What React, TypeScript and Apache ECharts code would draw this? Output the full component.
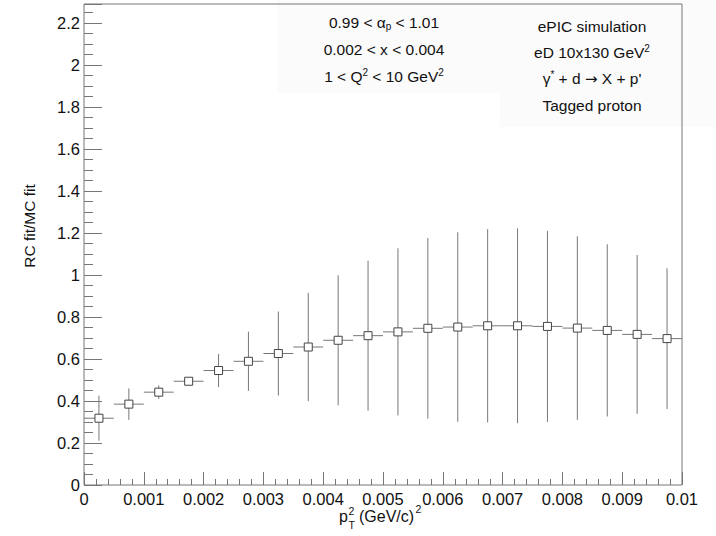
import React, { useEffect, useRef } from "react";
import * as echarts from "echarts";

// ---- data ----
const binCenters = [
  0.00025, 0.00075, 0.00125, 0.00175, 0.00225, 0.00275, 0.00325, 0.00375, 0.00425, 0.00475,
  0.00525, 0.00575, 0.00625, 0.00675, 0.00725, 0.00775, 0.00825, 0.00875, 0.00925, 0.00975,
];
const binHalfWidth = 0.00025;
const ratio = [
  0.318, 0.385, 0.442, 0.494, 0.545, 0.589, 0.626, 0.657, 0.689, 0.711,
  0.729, 0.746, 0.752, 0.758, 0.758, 0.755, 0.747, 0.736, 0.717, 0.697,
];
const ratioErr = [
  0.107, 0.075, 0.032, 0.012, 0.079, 0.141, 0.2, 0.258, 0.31, 0.357,
  0.398, 0.43, 0.451, 0.46, 0.464, 0.455, 0.437, 0.41, 0.378, 0.335,
];
const xMin = 0;
const xMax = 0.01;
const xStep = 0.001;
const yMin = 0;
const yMax = 2.29;
const yStep = 0.2;
const yMinorStep = 0.05;
const cutLines = ["0.99 < α{sub|p} < 1.01", "0.002 < x < 0.004", "1 < Q{sup|2} < 10 GeV{sup|2}"];
const infoLines = ["ePIC simulation", "eD 10x130 GeV{sup|2}", "γ{sup|*} + d {arr|→} X + p'", "Tagged proton"];
const yTitle = "RC fit/MC fit";

const FONT = "'Liberation Sans', Arial, Helvetica, sans-serif";
const TXT = "#111";
const LINE = "#777";

export default function App() {
  const ref = useRef<HTMLDivElement>(null);

  useEffect(() => {
    if (!ref.current) return;
    const chart = echarts.init(ref.current, undefined, { renderer: "svg" });

    const errData = binCenters.map((x, i) => [x, ratio[i], ratioErr[i], binHalfWidth]);
    const ptData = binCenters.map((x, i) => [x, ratio[i]]);

    const rich = {
      sup: { fontSize: 10, lineHeight: 10, verticalAlign: "top", fontFamily: FONT, fill: TXT, color: TXT },
      sub: { fontSize: 10, lineHeight: 10, verticalAlign: "bottom", fontFamily: FONT, fill: TXT, color: TXT },
      arr: { fontSize: 15, lineHeight: 18, fontFamily: "'DejaVu Sans', sans-serif", fill: TXT, color: TXT },
    };
    const mkText = (text: string, x: number, y: number) => ({
      type: "text",
      x,
      y,
      z: 5,
      style: {
        text,
        fill: TXT,
        fontSize: 15.5,
        fontFamily: FONT,
        lineHeight: 18,
        align: "center",
        verticalAlign: "middle",
        rich,
      },
    });
    const cutYs = [22, 49, 76];
    const infoYs = [26, 52.5, 78.5, 105.5];

    const plain = (text: string, x: number, y: number, fs: number, align = "left") => ({
      type: "text",
      x,
      y,
      z: 5,
      style: { text, fill: TXT, fontSize: fs, fontFamily: FONT, align, verticalAlign: "middle" },
    });

    const option: any = {
      animation: false,
      backgroundColor: "#fff",
      grid: {
        left: 84,
        right: 34,
        top: 4,
        bottom: 51,
        show: true,
        borderColor: LINE,
        borderWidth: 1,
        backgroundColor: "transparent",
        z: 3,
      },
      xAxis: {
        type: "value",
        min: xMin,
        max: xMax,
        interval: xStep,
        axisLine: { show: false },
        splitLine: { show: false },
        axisTick: { show: true, inside: true, length: 13, lineStyle: { color: LINE } },
        minorTick: { show: true, splitNumber: 5, length: 6, lineStyle: { color: LINE } },
        axisLabel: {
          margin: 5,
          color: TXT,
          fontSize: 16.5,
          fontFamily: FONT,
          showMinLabel: true,
          showMaxLabel: true,
          formatter: (v: number) => String(parseFloat(v.toFixed(4))),
        },
      },
      yAxis: [
        {
          type: "value",
          min: yMin,
          max: yMax,
          interval: yStep,
          axisLine: { show: false },
          splitLine: { show: false },
          axisTick: { show: true, inside: true, length: 18, lineStyle: { color: LINE } },
          axisLabel: {
            margin: 4,
            color: TXT,
            fontSize: 16.5,
            fontFamily: FONT,
            formatter: (v: number) =>
              Math.abs(v / yStep - Math.round(v / yStep)) < 1e-6 ? String(parseFloat(v.toFixed(2))) : "",
          },
        },
        {
          type: "value",
          position: "left",
          offset: 0,
          min: yMin,
          max: yMax,
          interval: yMinorStep,
          axisLine: { show: false },
          splitLine: { show: false },
          axisLabel: { show: false },
          axisTick: { show: true, inside: true, length: 9, lineStyle: { color: LINE } },
        },
      ],
      series: [
        {
          type: "custom",
          data: errData,
          z: 2,
          renderItem: (params: any, api: any) => {
            const x = api.value(0);
            const y = api.value(1);
            const e = api.value(2);
            const hw = api.value(3);
            const top = api.coord([x, y + e]);
            const bot = api.coord([x, y - e]);
            const l = api.coord([x - hw, y]);
            const r = api.coord([x + hw, y]);
            return {
              type: "group",
              children: [
                {
                  type: "line",
                  shape: { x1: top[0], y1: top[1], x2: bot[0], y2: bot[1] },
                  style: { stroke: LINE, lineWidth: 1 },
                },
                {
                  type: "line",
                  shape: { x1: l[0], y1: l[1], x2: r[0], y2: r[1] },
                  style: { stroke: LINE, lineWidth: 1 },
                },
              ],
            };
          },
        },
        {
          type: "scatter",
          data: ptData,
          symbol: "rect",
          symbolSize: 8,
          z: 4,
          itemStyle: { color: "#fff", borderColor: "#444", borderWidth: 1, opacity: 1 },
        },
      ],
      graphic: [
        { type: "rect", z: -1, shape: { x: 277, y: 0, width: 223, height: 93 }, style: { fill: "#fbfbfb" } },
        { type: "rect", z: -1, shape: { x: 500, y: 0, width: 216, height: 127 }, style: { fill: "#fbfbfb" } },
        ...cutLines.map((t, i) => mkText(t, 384, cutYs[i])),
        ...infoLines.map((t, i) => mkText(t, 592, infoYs[i])),
        {
          type: "text",
          x: 29,
          y: 226,
          rotation: Math.PI / 2,
          z: 5,
          style: { text: yTitle, fill: TXT, fontSize: 15.5, fontFamily: FONT, align: "center", verticalAlign: "middle" },
        },
        plain("p", 339, 516, 16),
        plain("2", 348.5, 511, 10.5),
        plain("T", 348.5, 525, 10.5),
        plain("(GeV/c)", 359, 516, 16),
        plain("2", 415.5, 509, 10.5),
      ],
    };

    chart.setOption(option);
    return () => chart.dispose();
  }, []);

  return (
    <div
      ref={ref}
      style={{ position: "absolute", left: 0, top: 0, width: 716, height: 536 }}
    />
  );
}
